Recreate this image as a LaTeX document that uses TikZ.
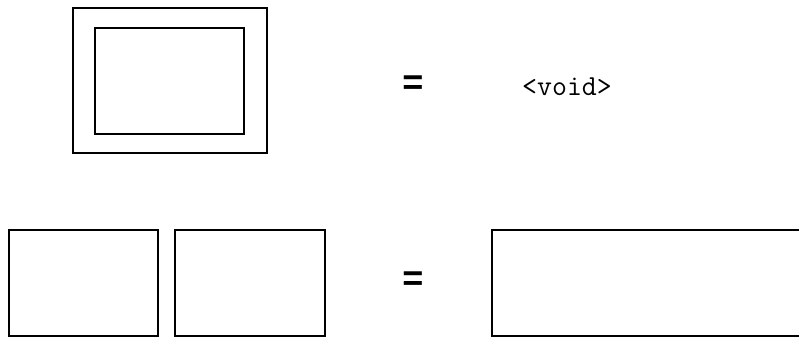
\documentclass[tikz,border=0pt]{standalone}
\usepackage{fontspec}
\newfontfamily\monofont{Liberation Mono}
\begin{document}
\begin{tikzpicture}[x=1pt,y=-1pt,
  boxstyle/.style={draw=black, line width=1.7pt, fill=none, inner sep=0pt, outer sep=0pt},
  eqstyle/.style={inner sep=0pt, font=\monofont\bfseries\fontsize{36}{36}\selectfont},
  voidstyle/.style={inner sep=0pt, font=\ttfamily\fontsize{29}{29}\selectfont}]
\useasboundingbox (0,0) rectangle (799,337);
\clip (0,0) rectangle (799,337);
% top row
\node[boxstyle, minimum width=194pt, minimum height=145pt] (outer) at (170,80.5) {};
\node[boxstyle, minimum width=149pt, minimum height=106pt] (inner) at (169.5,81) {};
\node[eqstyle] (eqtop) at (413,85) {=};
\node[voidstyle] (void) at (567,87) {<void>};
% bottom row
\node[boxstyle, minimum width=149pt, minimum height=106pt] (left) at (83.5,283) {};
\node[boxstyle, minimum width=150pt, minimum height=106pt] (mid) at (250,283) {};
\node[eqstyle] (eqbot) at (413,281) {=};
\node[boxstyle, minimum width=330pt, minimum height=106pt] (right) at (657,283) {};
\end{tikzpicture}
\end{document}
